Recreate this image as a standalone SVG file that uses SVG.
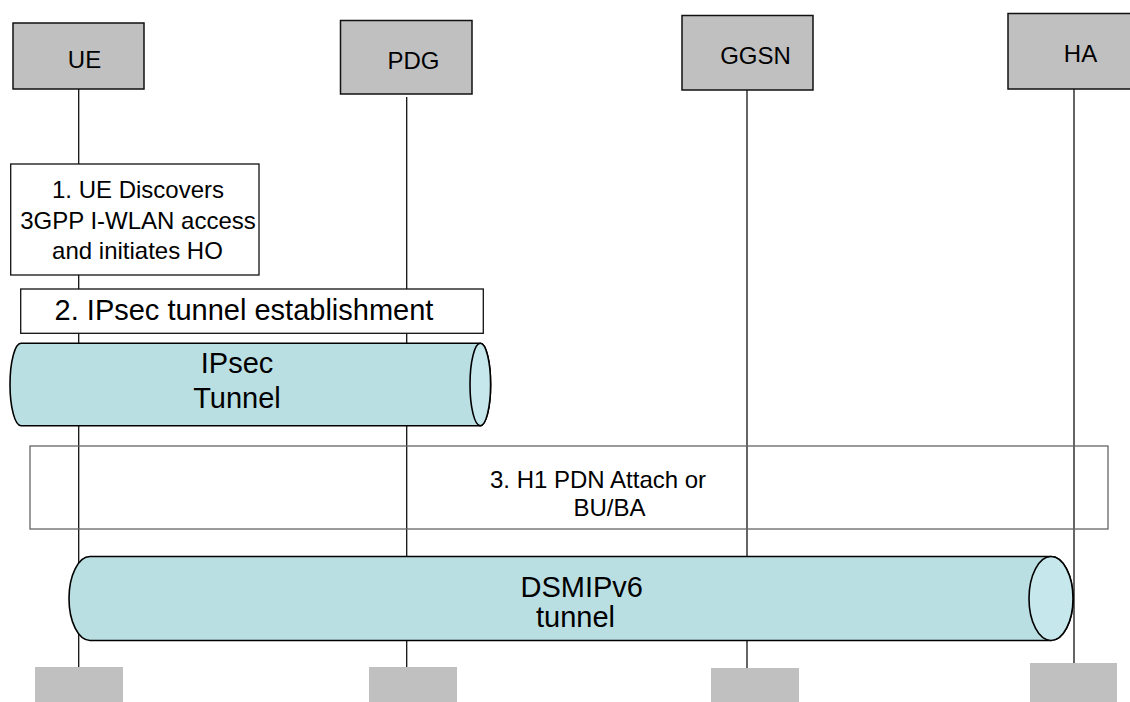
<svg xmlns="http://www.w3.org/2000/svg" width="1130" height="702" viewBox="0 0 1130 702">
<style>
text{font-family:"Liberation Sans",Arial,sans-serif;fill:#000}
.node{fill:#c0c0c0;stroke:#111;stroke-width:1.5}
.foot{fill:#c0c0c0;stroke:none}
.life{stroke:#111;stroke-width:1.3;fill:none}
.step{fill:#fff;stroke:#111;stroke-width:1.3}
.frame{fill:none;stroke:#666;stroke-width:1.3}
.tube{fill:#badfe3;stroke:#000;stroke-width:1.6}
.cap{fill:#c6e7eb;stroke:#000;stroke-width:1.6}
.lbl{font-size:24px}
.big{font-size:29px}
</style>
<g id="lifelines">
<line class="life" x1="78.7" y1="89" x2="78.7" y2="667"/>
<line class="life" x1="406.7" y1="97" x2="406.7" y2="667" stroke-width="1.6"/>
<line class="life" x1="747" y1="90" x2="747" y2="668"/>
<line class="life" x1="1074" y1="89" x2="1074" y2="663"/>
</g>
<g id="node-UE">
<rect class="node" x="13" y="23" width="131" height="66"/>
<text class="lbl" x="84.5" y="68" text-anchor="middle">UE</text>
<rect class="foot" x="35" y="667" width="88" height="35"/>
</g>
<g id="node-PDG">
<rect class="node" x="340.5" y="20.5" width="131.5" height="73.5"/>
<text class="lbl" x="413.5" y="69" text-anchor="middle">PDG</text>
<rect class="foot" x="369" y="667" width="88" height="35"/>
</g>
<g id="node-GGSN">
<rect class="node" x="682" y="15.5" width="131" height="74.5"/>
<text class="lbl" x="755.5" y="64" text-anchor="middle">GGSN</text>
<rect class="foot" x="711" y="668" width="88" height="34"/>
</g>
<g id="node-HA">
<rect class="node" x="1008" y="13.5" width="130" height="75.5"/>
<text class="lbl" x="1080.5" y="62" text-anchor="middle">HA</text>
<rect class="foot" x="1030" y="663" width="87" height="39"/>
</g>
<g id="step1">
<rect class="step" x="10.7" y="164" width="248.3" height="111"/>
<text class="lbl" x="138" y="198" text-anchor="middle">1. UE Discovers</text>
<text class="lbl" x="138" y="229" text-anchor="middle">3GPP I-WLAN access</text>
<text class="lbl" x="137.5" y="259" text-anchor="middle">and initiates HO</text>
</g>
<g id="step2">
<rect class="step" x="20.7" y="289" width="462.6" height="44.3"/>
<text class="big" x="244" y="320" text-anchor="middle">2. IPsec tunnel establishment</text>
</g>
<g id="ipsec-tunnel">
<path class="tube" d="M21,343.3 H480.3 A10.3,41.2 0 0 1 480.3,425.7 H21 A11,41.2 0 0 1 21,343.3 Z"/>
<ellipse class="cap" cx="480.3" cy="384.5" rx="10.3" ry="41.2"/>
<text class="big" x="237" y="373" text-anchor="middle">IPsec</text>
<text class="big" x="237" y="408" text-anchor="middle">Tunnel</text>
</g>
<g id="step3">
<rect class="frame" x="30" y="446" width="1078" height="83"/>
<text class="lbl" x="490" y="488">3. H1 PDN Attach or</text>
<text class="lbl" x="573.5" y="516">BU/BA</text>
</g>
<g id="dsmip-tunnel">
<path class="tube" d="M90,556.5 H1051 A22,42 0 0 1 1051,640.5 H90 A21,42 0 0 1 90,556.5 Z"/>
<ellipse class="cap" cx="1051" cy="598.5" rx="22" ry="42"/>
<text class="big" x="581.7" y="597" text-anchor="middle">DSMIPv6</text>
<text class="big" x="575.5" y="627" text-anchor="middle">tunnel</text>
</g>
</svg>
